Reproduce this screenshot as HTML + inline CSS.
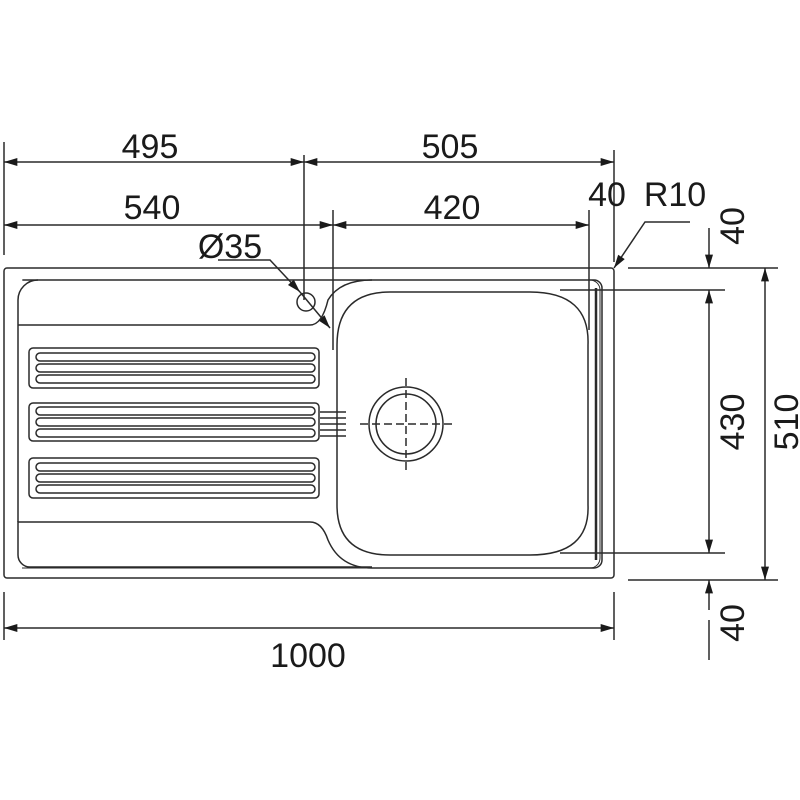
<!DOCTYPE html><html><head><style>body{margin:0;background:#fff}svg{display:block}text{font-family:"Liberation Sans",sans-serif;font-size:34px;fill:#1a1a1a}</style></head><body>
<svg width="800" height="800" viewBox="0 0 800 800" xmlns="http://www.w3.org/2000/svg">
<defs><marker id="a" viewBox="0 0 10 6" refX="10" refY="3" markerWidth="22" markerHeight="8" markerUnits="userSpaceOnUse" orient="auto-start-reverse"><path d="M0,0L10,3L0,6z" fill="#1a1a1a"/></marker></defs>
<g stroke="#2a2a2a" stroke-width="1.5" fill="none">
<line x1="4" y1="142" x2="4" y2="255"/><line x1="304" y1="155" x2="304" y2="300"/><line x1="333" y1="210" x2="333" y2="350"/><line x1="589" y1="210" x2="589" y2="330"/><line x1="614" y1="150" x2="614" y2="262"/>
<line x1="4" y1="592" x2="4" y2="640"/><line x1="614" y1="592" x2="614" y2="640"/>
<line x1="4" y1="162" x2="304" y2="162" marker-start="url(#a)" marker-end="url(#a)"/>
<line x1="304" y1="162" x2="614" y2="162" marker-start="url(#a)" marker-end="url(#a)"/>
<line x1="4" y1="225" x2="333" y2="225" marker-start="url(#a)" marker-end="url(#a)"/>
<line x1="333" y1="225" x2="589" y2="225" marker-start="url(#a)" marker-end="url(#a)"/>
<line x1="4" y1="628" x2="614" y2="628" marker-start="url(#a)" marker-end="url(#a)"/>
<line x1="628" y1="268" x2="778" y2="268"/><line x1="628" y1="580" x2="778" y2="580"/>
<line x1="560" y1="290" x2="725" y2="290"/><line x1="560" y1="553" x2="725" y2="553"/>
<line x1="765" y1="268" x2="765" y2="580" marker-start="url(#a)" marker-end="url(#a)"/>
<line x1="709" y1="290" x2="709" y2="553" marker-start="url(#a)" marker-end="url(#a)"/>
<line x1="709" y1="228" x2="709" y2="268" marker-end="url(#a)"/>
<line x1="709" y1="610" x2="709" y2="580" marker-end="url(#a)"/>
<line x1="709" y1="620" x2="709" y2="660"/>
<polyline points="690,222 645,222 614,268" marker-end="url(#a)"/>
<polyline points="218,260 270,260 300,292" marker-end="url(#a)"/>
<line x1="300" y1="292" x2="330" y2="328" marker-end="url(#a)"/>
<rect x="4" y="268" width="610" height="310" rx="3"/>
<path d="M23,280 H594 a8,8 0 0 1 8,8 V560 a8,8 0 0 1 -8,8 H372 Q340,568 328,540 Q322,522 310,522 H18 V545"/>
<path d="M18,325 V300 a20,20 0 0 1 20,-20"/>
<path d="M18,325 H310 Q322,325 328,300 Q340,280 372,280"/>
<path d="M18,545 V555 a12,12 0 0 0 12,12 H372"/>
<line x1="18" y1="325" x2="18" y2="522"/>
<path d="M22,280 H590 a10,10 0 0 1 10,10 V558 a10,10 0 0 1 -10,10 H22" stroke-width="1"/>
<line x1="596" y1="288" x2="596" y2="560" stroke-width="2.5"/>
<path d="M390,292 H530 Q590,292 588,345 V505 Q590,555 530,555 H390 Q337,555 337,505 V345 Q337,292 390,292Z"/>
<circle cx="406" cy="424" r="37"/><circle cx="406" cy="424" r="30"/>
<path d="M360,424H452M406,378V470" stroke-dasharray="8,4"/>
<circle cx="306" cy="302" r="9"/>
<g id="s"><rect x="29" y="348" width="290" height="40" rx="4"/>
<path d="M40,353H311a4,4 0 0 1 0,8H40a4,4 0 0 1 0,-8M40,364H311a4,4 0 0 1 0,8H40a4,4 0 0 1 0,-8M40,375H311a4,4 0 0 1 0,8H40a4,4 0 0 1 0,-8"/></g>
<rect x="29" y="403" width="290" height="38" rx="4"/>
<path d="M40,407H311a4,4 0 0 1 0,8H40a4,4 0 0 1 0,-8M40,418H311a4,4 0 0 1 0,8H40a4,4 0 0 1 0,-8M40,429H311a4,4 0 0 1 0,8H40a4,4 0 0 1 0,-8"/>
<path d="M320,412H346M320,418H346M320,424H346M320,430H346M320,436H346"/>
<use href="#s" y="110"/>
</g>
<text x="150" y="158" text-anchor="middle">495</text>
<text x="450" y="158" text-anchor="middle">505</text>
<text x="152" y="219" text-anchor="middle">540</text>
<text x="452" y="219" text-anchor="middle">420</text>
<text x="607" y="206" text-anchor="middle">40</text>
<text x="675" y="206" text-anchor="middle">R10</text>
<text x="230" y="258" text-anchor="middle">Ø35</text>
<text x="308" y="667" text-anchor="middle">1000</text>
<text transform="translate(744,226) rotate(-90)" text-anchor="middle">40</text>
<text transform="translate(744,422) rotate(-90)" text-anchor="middle">430</text>
<text transform="translate(798,422) rotate(-90)" text-anchor="middle">510</text>
<text transform="translate(744,623) rotate(-90)" text-anchor="middle">40</text>
</svg></body></html>
